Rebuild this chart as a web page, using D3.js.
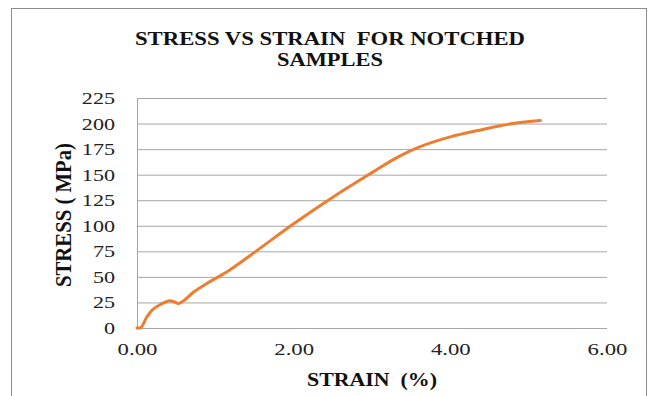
<!DOCTYPE html>
<html>
<head>
<meta charset="utf-8">
<script src="https://cdn.jsdelivr.net/npm/d3@7"></script>
<style>
  body { margin: 0; background: #fff; }
  text { font-family: "Liberation Serif", "DejaVu Serif", serif; white-space: pre; }
</style>
</head>
<body>
<svg></svg>
<script>
const strain = [0, 0.05, 0.12, 0.2, 0.3, 0.4, 0.48, 0.53, 0.6, 0.72, 0.9, 1.15, 1.5, 2.0, 2.5, 3.0, 3.3, 3.6, 4.0, 4.4, 4.8, 5.15];
const stress = [0, 0.5, 10, 18, 23, 26.5, 25.5, 24, 27, 35, 44, 55, 74, 102, 128, 152, 166, 177, 187, 194, 200, 203];
const xTicks = [0, 2, 4, 6];
const yTicks = [0, 25, 50, 75, 100, 125, 150, 175, 200, 225];

let width = 651;
let height = 396;
let margin = {left: 137, right: 44, top: 98, bottom: 68};
let innerWidth = width - margin.left - margin.right;
let innerHeight = height - margin.top - margin.bottom;

// the picture's text is drawn wider than the font, stretch it
const stretch = sel => sel.each(function() {
    let w = this.getComputedTextLength();
    d3.select(this)
        .attr('textLength', w * 1.3)
        .attr('lengthAdjust', 'spacingAndGlyphs');
});

let svg = d3.select('svg')
            .attr('width', width)
            .attr('height', height);

// chart frame
svg.append('rect')
    .attr('x', 11.5).attr('y', 8.5)
    .attr('width', 635).attr('height', 400)
    .attr('fill', 'none')
    .attr('stroke', '#8c8c8c');

svg.append('text')
    .attr('x', 330).attr('y', 45)
    .attr('text-anchor', 'middle')
    .attr('font-weight', 'bold')
    .attr('font-size', 19.5)
    .attr('fill', '#111')
    .attr('textLength', 390)
    .attr('lengthAdjust', 'spacingAndGlyphs')
    .text('STRESS VS STRAIN  FOR NOTCHED');
svg.append('text')
    .attr('x', 330).attr('y', 66)
    .attr('text-anchor', 'middle')
    .attr('font-weight', 'bold')
    .attr('font-size', 19.5)
    .attr('fill', '#111')
    .attr('textLength', 106)
    .attr('lengthAdjust', 'spacingAndGlyphs')
    .text('SAMPLES');

let focus = svg.append('g')
    .attr('transform', `translate(${margin.left}, ${margin.top})`);

let xScale = d3.scaleLinear().domain([0, 6]).range([0, innerWidth]);
let yScale = d3.scaleLinear().domain([0, 225]).range([innerHeight, 0]);

// horizontal gridlines
let yAxis = d3.axisLeft(yScale)
    .tickValues(yTicks)
    .tickSize(-innerWidth)
    .tickPadding(22)
    .tickFormat(d3.format('d'));

let yg = focus.append('g').call(yAxis);
yg.select('.domain').attr('stroke', '#a6a6a6');
yg.selectAll('.tick line').attr('stroke', '#a6a6a6');
yg.selectAll('.tick text')
    .attr('font-family', '"Liberation Serif", serif')
    .attr('font-size', 17)
    .attr('fill', '#222')
    .call(stretch);

let xAxis = d3.axisBottom(xScale)
    .tickValues(xTicks)
    .tickSize(0)
    .tickPadding(15)
    .tickFormat(d3.format('.2f'));

let xg = focus.append('g')
    .attr('transform', `translate(0, ${innerHeight})`)
    .call(xAxis);
xg.select('.domain').remove();
xg.selectAll('.tick text')
    .attr('font-family', '"Liberation Serif", serif')
    .attr('font-size', 17.5)
    .attr('fill', '#222')
    .call(stretch);

// axis titles
svg.append('text')
    .attr('x', 372)
    .attr('y', 386)
    .attr('text-anchor', 'middle')
    .attr('font-weight', 'bold')
    .attr('font-size', 19)
    .attr('fill', '#111')
    .attr('textLength', 130)
    .attr('lengthAdjust', 'spacingAndGlyphs')
    .text('STRAIN  (%)');

svg.append('text')
    .attr('transform', `translate(71, ${margin.top + innerHeight / 2 + 2}) scale(1.25, 1) rotate(-90)`)
    .attr('text-anchor', 'middle')
    .attr('font-weight', 'bold')
    .attr('font-size', 18.5)
    .attr('fill', '#111')
    .attr('textLength', 144)
    .attr('lengthAdjust', 'spacingAndGlyphs')
    .text('STRESS ( MPa)');

let points = strain.map((s, i) => [s, stress[i]]);

let line = d3.line()
    .x(d => xScale(d[0]))
    .y(d => yScale(d[1]))
    .curve(d3.curveCatmullRom.alpha(0.5));

focus.append('path')
    .datum(points)
    .attr('d', line)
    .attr('fill', 'none')
    .attr('stroke', '#ed7d31')
    .attr('stroke-width', 3)
    .attr('stroke-linecap', 'round');
</script>
</body>
</html>
